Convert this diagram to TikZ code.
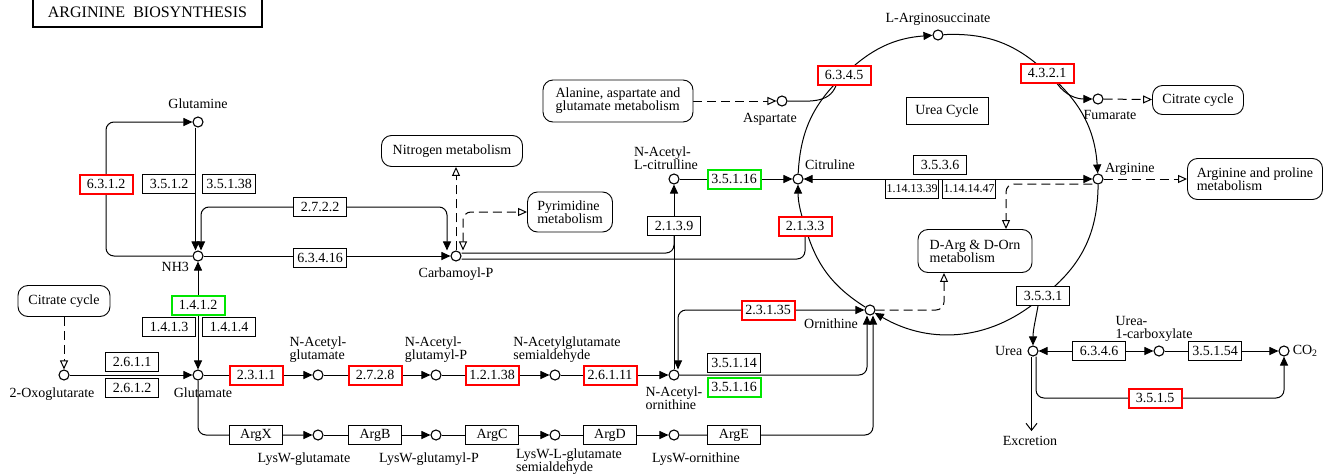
\documentclass[tikz,border=0pt]{standalone}
\usepackage{fontspec}
\setmainfont{Liberation Serif}
\usepackage{tikz}
\usetikzlibrary{arrows.meta,shapes,calc,positioning,backgrounds}
\definecolor{keggRed}{RGB}{255,0,0}
\definecolor{keggGreen}{RGB}{0,230,0}
\newcommand{\keggfont}{\fontsize{14}{13}\selectfont}
\newcommand{\keggsmall}{\fontsize{12}{13}\selectfont}
\tikzstyle{edge}    =[line width=1pt]
\tikzstyle{rxn}     =[edge, -{Triangle[length=9pt,width=8pt]}]
\tikzstyle{rxnboth} =[edge, {Triangle[length=9pt,width=8pt]}-{Triangle[length=9pt,width=8pt]}]
\tikzstyle{maplink} =[edge, dash pattern=on 9pt off 5pt,
                      -{Triangle[open,length=9pt,width=8pt,fill=white]}]
\tikzstyle{maplinkboth}=[edge, dash pattern=on 9pt off 5pt,
                      {Triangle[open,length=9pt,width=8pt,fill=white]}-{Triangle[open,length=9pt,width=8pt,fill=white]}]
\tikzstyle{excrarrow}=[edge, -{Straight Barb[length=7pt,width=11pt]}]
\tikzstyle{cpd}     =[circle, draw, fill=white, minimum size=10pt,
                      inner sep=0pt, line width=1.1pt]
\tikzstyle{enzyme}  =[rectangle, draw, fill=white, minimum width=53pt,
                      minimum height=19pt, inner sep=1pt, line width=0.9pt]
\tikzstyle{enzred}  =[enzyme, draw=keggRed, line width=2pt]
\tikzstyle{enzgreen}=[enzyme, draw=keggGreen, line width=2pt]
\tikzstyle{mapbox}  =[rectangle, rounded corners=10pt, draw, fill=white,
                      align=left, line width=0.9pt]
\tikzstyle{lbl}     =[inner sep=0pt, align=left]

\begin{document}
\begin{tikzpicture}[x=1pt, y=1pt, every node/.style={font=\keggfont}]
\useasboundingbox (0,0) rectangle (1325,-474);

\node (title) [draw, line width=2pt, minimum width=229pt, minimum height=29pt,
  font=\fontsize{16}{16}\selectfont] at (147.5,-12) {\raisebox{-2pt}{ARGININE\ \ BIOSYNTHESIS}};

%%%%%%%%%%%%%%%%%%%%%%%%%%%%%%%%%%%%%%%%%%%%%%%%
%%%%%%%%%%          Compounds         %%%%%%%%%%
%%%%%%%%%%%%%%%%%%%%%%%%%%%%%%%%%%%%%%%%%%%%%%%%
\foreach \n/\x/\y in {gln/198/122, nh3/198/256, oxo/64/375, glu/198/375,
    nag/318/375, nagp/436/375, nags/555/375, nao/674/375,
    lysglu/318/435, lysglup/436/435, lyssa/555/435, lysorn/674/435,
    cp/456/256, nacit/674/179, cit/798/179, asp/782/101, lasuc/938/35,
    fum/1098/99, arg/1098/179, orn/870/310,
    urea/1033/351, uc1/1159/351, co2/1284/351}
	\node (\n) [cpd] at (\x,-\y){};

\node (tGln)    [lbl, above=8pt of gln] {Glutamine};
\node (tNH3)    [lbl, below left=2pt and 5pt of nh3] {NH3};
\node (tOxo)    [lbl, below=7pt of oxo, xshift=-12pt] {2-Oxoglutarate};
\node (tGlu)    [lbl, below=7pt of glu, xshift=5pt] {Glutamate};
\node (tNag)    [lbl, above=7pt of nag] {N-Acetyl-\\glutamate};
\node (tNagp)   [lbl, above=7pt of nagp] {N-Acetyl-\\glutamyl-P};
\node (tNags)   [lbl, above=7pt of nags, xshift=12pt] {N-Acetylglutamate\\semialdehyde};
\node (tNao)    [lbl, below=6pt of nao] {N-Acetyl-\\ornithine};
\node (tLysglu) [lbl, below=12pt of lysglu, xshift=-14pt] {LysW-glutamate};
\node (tLysglup)[lbl, below=12pt of lysglup, xshift=-7pt] {LysW-glutamyl-P};
\node (tLyssa)  [lbl, below=8pt of lyssa, xshift=14pt] {LysW-L-glutamate\\semialdehyde};
\node (tLysorn) [lbl, below=12pt of lysorn, xshift=22pt] {LysW-ornithine};
\node (tCp)     [lbl, below=6pt of cp] {Carbamoyl-P};
\node (tNacit)  [lbl, above=4pt of nacit, xshift=-8pt] {N-Acetyl-\\L-citrulline};
\node (tCit)    [lbl, above right=5pt and 3pt of cit] {Citruline};
\node (tAsp)    [lbl, below=7pt of asp, xshift=-12pt] {Aspartate};
\node (tLasuc)  [lbl, above=4pt of lasuc] {L-Arginosuccinate};
\node (tFum)    [lbl, below=6pt of fum, xshift=12pt] {Fumarate};
\node (tArg)    [lbl, above right=-1pt and 3pt of arg] {Arginine};
\node (tOrn)    [lbl, below left=5pt and 8pt of orn] {Ornithine};
\node (tUrea)   [lbl, left=5pt of urea] {Urea};
\node (tUc1)    [lbl, above=4pt of uc1, xshift=-5pt] {Urea-\\1-carboxylate};
\node (tCo2)    [lbl, right=3pt of co2] {CO\textsubscript{2}};
\node (excr)    [lbl, inner ysep=5pt] at (1030,-441) {Excretion};

%%%%%%%%%%%%%%%%%%%%%%%%%%%%%%%%%%%%%%%%%%%%%%%%
%%%%%%%%%%           Enzymes          %%%%%%%%%%
%%%%%%%%%%%%%%%%%%%%%%%%%%%%%%%%%%%%%%%%%%%%%%%%
\foreach \n/\x/\y/\t in {e3512/169/184/3.5.1.2, e35138/229/184/3.5.1.38,
    e2722/320/207/2.7.2.2, e63416/320/258/6.3.4.16,
    e1413/169/327/1.4.1.3, e1414/229/327/1.4.1.4,
    e2611/132/362/2.6.1.1, e2612/132/388/2.6.1.2,
    eArgX/256/435/ArgX, eArgB/375/435/ArgB, eArgC/492/435/ArgC,
    eArgD/610/435/ArgD, eArgE/734/435/ArgE, e35114/734/363/3.5.1.14,
    e2139/674/226/2.1.3.9, e3536/940/165/3.5.3.6, e3531/1043/296/3.5.3.1,
    e6346/1099/351/6.3.4.6, e35154/1215/351/3.5.1.54}
	\node (\n) [enzyme] at (\x,-\y){\t};
\foreach \n/\x/\y/\t in {e6312/106/184/6.3.1.2, e2311/256/375/2.3.1.1,
    e2728/375/375/2.7.2.8, e12138/492/375/1.2.1.38, e26111/610/375/2.6.1.11,
    e23135/768/310/2.3.1.35, e2133/805/226/2.1.3.3, e6345/844/75/6.3.4.5,
    e4321/1047/73/4.3.2.1, e3515/1155/398/3.5.1.5}
	\node (\n) [enzred] at (\x,-\y){\t};
\foreach \n/\x/\y/\t in {e1412/198/305/1.4.1.2, e3516a/734/179/3.5.1.16,
    e3516b/734/387/3.5.1.16}
	\node (\n) [enzgreen] at (\x,-\y){\t};
\node (e113139) [enzyme, font=\keggsmall] at (912,-189) {1.14.13.39};
\node (e114147) [enzyme, font=\keggsmall] at (969,-189) {1.14.14.47};
\node (ucyc) [enzyme, minimum width=82pt, minimum height=27pt] at (947,-111) {Urea Cycle};

%%%%%%%%%%%%%%%%%%%%%%%%%%%%%%%%%%%%%%%%%%%%%%%%
%%%%%%%%%%          Pathway maps      %%%%%%%%%%
%%%%%%%%%%%%%%%%%%%%%%%%%%%%%%%%%%%%%%%%%%%%%%%%
\node (cc1)    [mapbox, minimum width=92pt, minimum height=31pt] at (64,-301) {Citrate cycle};
\node (nitro)  [mapbox, minimum width=141pt, minimum height=31pt] at (452,-151) {Nitrogen metabolism};
\node (pyr)    [mapbox, minimum width=85pt, minimum height=40pt] at (570,-212) {Pyrimidine\\metabolism};
\node (ala)    [mapbox, minimum width=150pt, minimum height=42pt] at (618,-101) {Alanine, aspartate and\\glutamate metabolism};
\node (cc2)    [mapbox, minimum width=91pt, minimum height=29pt] at (1198,-100) {Citrate cycle};
\node (argpro) [mapbox, minimum width=135pt, minimum height=41pt] at (1255,-179) {Arginine and proline\\metabolism};
\node (darg)   [mapbox, minimum width=114pt, minimum height=43pt] at (975,-251) {D-Arg \& D-Orn\\metabolism};

%%%%%%%%%%%%%%%%%%%%%%%%%%%%%%%%%%%%%%%%%%%%%%%%
%%%%%%%%%%          Reactions         %%%%%%%%%%
%%%%%%%%%%%%%%%%%%%%%%%%%%%%%%%%%%%%%%%%%%%%%%%%
\begin{pgfonlayer}{background}
\fill[white] (0,0) rectangle (1325,-474);

% glutamine and carbamoyl-P
\draw[rxn] ([xshift=-2.5pt]gln.south) -- ([xshift=-2.5pt]nh3.north);
\draw[rxn, rounded corners=8pt] (nh3.west) -| (e6312.center) |- (gln.west);
\draw[rxnboth, rounded corners=8pt] ([xshift=3pt]nh3.north) |- (e2722.center) -| ([xshift=-9pt]cp.north);
\draw[rxn] (nh3) -- (cp);
\draw[rxnboth] (glu) -- (nh3);
\draw[maplink] (cc1) -- (oxo);
\draw[maplink] (cp.north) -- (cp.north |- nitro.south);
\draw[maplinkboth, rounded corners=8pt] ([xshift=7pt]cp.north) |- (pyr.west);
\draw[edge, rounded corners=8pt] ([yshift=3pt]cp.east) -| (e2139.center);
\draw[edge, rounded corners=8pt] ([yshift=-3pt]cp.east) -| (e2133.center);

% straight steps
\foreach \a/\b in {oxo/glu, glu/nag, nag/nagp, nagp/nags, nags/nao,
    lysglu/lysglup, lysglup/lyssa, lyssa/lysorn, nao/nacit, nacit/cit, uc1/co2}
	\draw[rxn] (\a) -- (\b);
\draw[rxn, rounded corners=8pt] (glu) |- (lysglu);
\draw[rxn, rounded corners=8pt] (nao) -| ([xshift=-3pt]orn.south);
\draw[rxn, rounded corners=8pt] (lysorn) -| ([xshift=3pt]orn.south);
\draw[rxnboth, rounded corners=8pt] ([xshift=4pt]nao.north) |- (orn);

% urea cycle
\draw[edge] (cit) to[bend left=22] (e6345.center);
\draw[rxn] (e6345.center) to[bend left=20] (lasuc);
\draw[edge] (lasuc) to[bend left=23] (e4321.center);
\draw[rxn] (e4321.center) to[bend left=23] (arg);
\draw[edge] (arg) to[bend left=26] (e3531.center);
\draw[rxn] (e3531.center) to[bend left=36] (orn);
\draw[edge] (orn) to[bend left=21] (e2133.center);
\draw[rxn] (e2133.center) to[bend left=9] (cit);
\draw[rxnboth] (cit) -- (arg);
\draw[maplink] (ala) -- (asp);
\draw[edge] (asp) to[out=0,in=250] ([xshift=-8pt]e6345.south);
\draw[rxn] ([xshift=10pt]e4321.south) to[out=-55,in=180] (fum);
\draw[maplink] (fum) -- (cc2);
\draw[maplink] (arg) -- (argpro);
\draw[maplink, rounded corners=8pt] ([yshift=-5pt]arg.west) -| ([xshift=31pt]darg.north);
\draw[maplink, rounded corners=8pt] (orn) -| ([xshift=-31pt]darg.south);

% urea
\draw[rxn] ([xshift=-5pt]e3531.south) to[out=-100,in=90] (urea);
\draw[rxnboth] (urea) -- (uc1);
\draw[rxn, rounded corners=8pt] ([xshift=3pt]urea.south) |- (e3515.center) -| (co2);
\draw[excrarrow] ([xshift=-1.5pt]urea.south) -- ([xshift=-1.5pt]urea.south |- excr.north);
\end{pgfonlayer}

\end{tikzpicture}
\end{document}
